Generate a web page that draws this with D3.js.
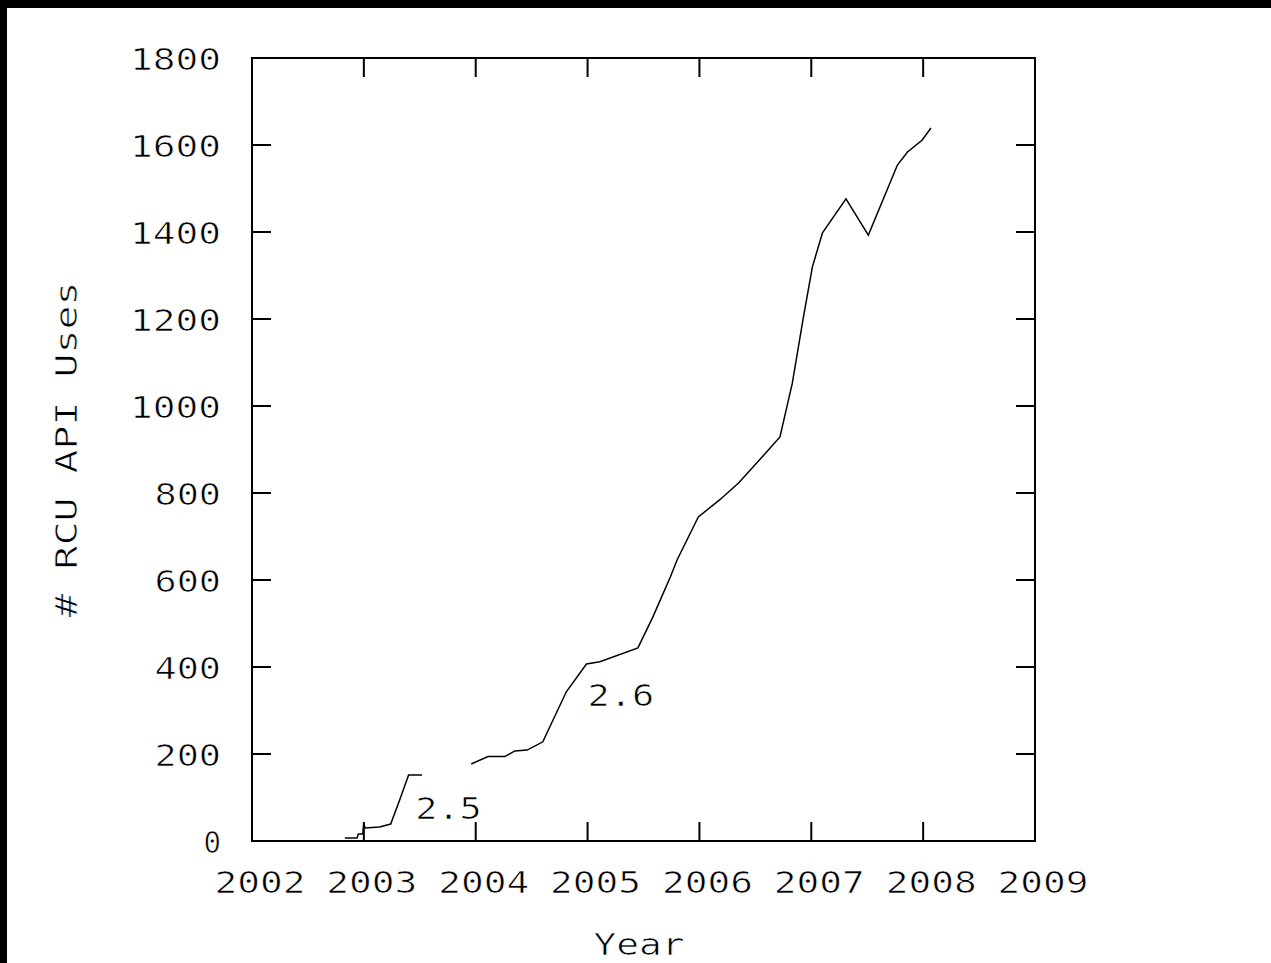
<!DOCTYPE html>
<html>
<head>
<meta charset="utf-8">
<script src="https://cdn.jsdelivr.net/npm/d3@7"></script>
<style>
  html, body { margin: 0; padding: 0; background: #fff; }
  text { font-family: "DejaVu Sans Mono", monospace; fill: #000; stroke: #fff; stroke-width: 0.7px; paint-order: fill; }
</style>
</head>
<body>
<div id="chart"></div>
<script>
// dati
var xTicks = [2002, 2003, 2004, 2005, 2006, 2007, 2008, 2009];
var yTicks = [0, 200, 400, 600, 800, 1000, 1200, 1400, 1600, 1800];

// serie kernel 2.5
var years25 = [2002.83, 2002.94, 2002.95, 2002.99, 2003.0, 2003.01, 2003.14, 2003.24, 2003.32, 2003.40, 2003.52];
var uses25  = [7, 7, 16, 16, 41, 30, 32, 39, 94, 152, 152];

// serie kernel 2.6
var years26 = [2003.96, 2004.11, 2004.26, 2004.35, 2004.46, 2004.60, 2004.81, 2004.99, 2005.11, 2005.45,
               2005.58, 2005.74, 2005.80, 2005.99, 2006.18, 2006.35, 2006.60, 2006.72, 2006.83, 2006.93,
               2007.01, 2007.10, 2007.31, 2007.51, 2007.77, 2007.86, 2007.99, 2008.07];
var uses26  = [177, 194, 194, 207, 209, 228, 343, 407, 412, 444,
               513, 607, 646, 745, 784, 823, 894, 929, 1052, 1205,
               1320, 1398, 1476, 1393, 1554, 1584, 1611, 1639];

var labels = [
  { text: "2.5", year: 2003.46, value: 76 },
  { text: "2.6", year: 2005.0, value: 336 }
];

var width = 1271, height = 963;
var margin = { left: 252, right: 236, top: 58, bottom: 122 };

var svg = d3.select("#chart").append("svg")
  .attr("width", width)
  .attr("height", height);

// bordi neri in alto e a sinistra
svg.append("rect").attr("x", 0).attr("y", 0).attr("width", width).attr("height", 8).attr("fill", "#000");
svg.append("rect").attr("x", 0).attr("y", 0).attr("width", 7).attr("height", height).attr("fill", "#000");

var x = d3.scaleLinear().domain([2002, 2009]).range([margin.left, width - margin.right]);
var y = d3.scaleLinear().domain([0, 1800]).range([height - margin.bottom, margin.top]);

var tickLen = 19;
var fontSize = 31;
var pitch = 24.5; // larghezza di un carattere nel font a tratti

// testo allargato come il font originale
function label(g, str, px, py, anchor) {
  var s = String(str);
  return g.append("text")
    .attr("x", px).attr("y", py)
    .attr("text-anchor", anchor || "start")
    .attr("dominant-baseline", "central")
    .attr("font-size", fontSize)
    .attr("textLength", s.length * pitch - 7)
    .attr("lengthAdjust", "spacingAndGlyphs")
    .text(s);
}

// cornice
svg.append("rect")
  .attr("x", x(2002)).attr("y", y(1800))
  .attr("width", x(2009) - x(2002)).attr("height", y(0) - y(1800))
  .attr("fill", "none").attr("stroke", "#000").attr("stroke-width", 2);

// tacche asse x (sotto e sopra, verso l'interno)
var gx = svg.append("g");
xTicks.forEach(function(t) {
  gx.append("line").attr("x1", x(t)).attr("x2", x(t)).attr("y1", y(0)).attr("y2", y(0) - tickLen)
    .attr("stroke", "#000").attr("stroke-width", 2);
  gx.append("line").attr("x1", x(t)).attr("x2", x(t)).attr("y1", y(1800)).attr("y2", y(1800) + tickLen)
    .attr("stroke", "#000").attr("stroke-width", 2);
  label(gx, t, x(t) + 8, 882, "middle");
});

// tacche asse y (sinistra e destra)
var gy = svg.append("g");
yTicks.forEach(function(t) {
  gy.append("line").attr("x1", x(2002)).attr("x2", x(2002) + tickLen).attr("y1", y(t)).attr("y2", y(t))
    .attr("stroke", "#000").attr("stroke-width", 2);
  gy.append("line").attr("x1", x(2009)).attr("x2", x(2009) - tickLen).attr("y1", y(t)).attr("y2", y(t))
    .attr("stroke", "#000").attr("stroke-width", 2);
  label(gy, t, 221, y(t) + 1, "end");
});

// linee
var line = d3.line()
  .x(function(d) { return x(d[0]); })
  .y(function(d) { return y(d[1]); });

[[years25, uses25], [years26, uses26]].forEach(function(s) {
  var pts = s[0].map(function(yr, i) { return [yr, s[1][i]]; });
  svg.append("path").datum(pts)
    .attr("d", line)
    .attr("fill", "none")
    .attr("stroke", "#000")
    .attr("stroke-width", 1.5);
});

// etichette versioni
labels.forEach(function(l) {
  label(svg, l.text, x(l.year), y(l.value), "start");
});

// titoli assi
label(svg, "Year", 639, 944, "middle");

var yl = label(svg, "# RCU API Uses", 0, 0, "middle");
yl.attr("x", null).attr("y", null)
  .attr("transform", "translate(66," + ((y(0) + y(1800)) / 2) + ") rotate(-90)");
</script>
</body>
</html>
